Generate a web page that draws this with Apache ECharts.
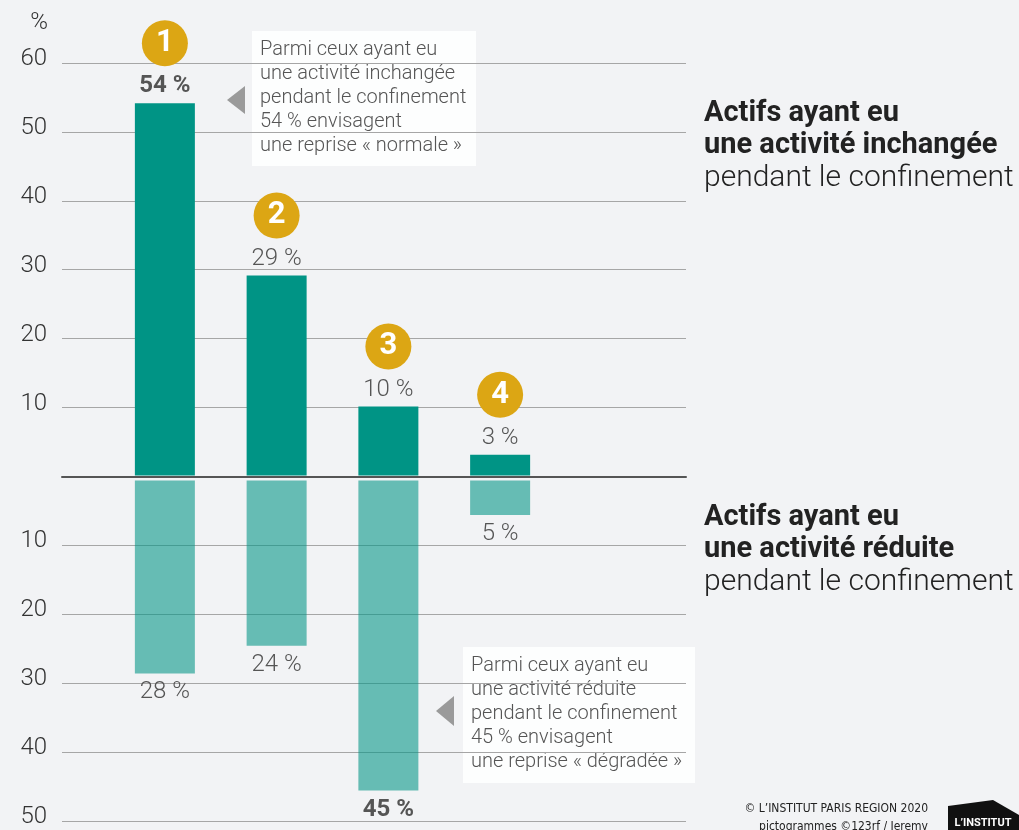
<!DOCTYPE html>
<html>
<head>
<meta charset="utf-8">
<script src="https://cdn.jsdelivr.net/npm/echarts@6/dist/echarts.min.js"></script>
<style>
  html, body { margin: 0; padding: 0; background: #f2f3f5; }
  #chart { width: 1019px; height: 830px; }
</style>
</head>
<body>
<div id="chart"></div>
<script>
// numéros des groupes
var categories = ['1', '2', '3', '4'];
// actifs ayant eu une activité inchangée (%)
var inchangee = [54, 29, 10, 3];
// actifs ayant eu une activité réduite (%)
var reduite = [28, 24, 45, 5];

var FONT = 'Roboto, "Open Sans", sans-serif';
var TEAL = '#009485';
var TEAL_LIGHT = 'rgba(0,148,133,0.58)';
var GOLD = '#dca614';

var chart = echarts.init(document.getElementById('chart'));

var note1 = ['Parmi ceux ayant eu', 'une activité inchangée', 'pendant le confinement',
             '54 % envisagent', 'une reprise « normale »'];
var note2 = ['Parmi ceux ayant eu', 'une activité réduite', 'pendant le confinement',
             '45 % envisagent', 'une reprise « dégradée »'];

function note(x, y, w, h, lines, tri) {
    return {
        type: 'group',
        children: [
            { type: 'rect', shape: { x: x, y: y, width: w, height: h },
              style: { fill: 'rgba(255,255,255,0.85)' } },
            { type: 'text', x: x + 8, y: y + 7,
              style: { text: lines.join('\n'), font: '300 20px ' + FONT, lineHeight: 24, fill: '#555' } },
            { type: 'polygon', shape: { points: tri }, style: { fill: '#9a9a9a' } }
        ]
    };
}

var option = {
    backgroundColor: '#f2f3f5',
    animation: false,
    grid: [
        { left: 62, right: 333, top: 63, bottom: 9 },
        { left: 109, right: 463, top: 62, bottom: 10 },
        { left: 109, right: 463, top: 67, bottom: 5 }
    ],
    xAxis: [
        { gridIndex: 0, type: 'category', data: [''],
          axisLine: { onZero: true, lineStyle: { color: '#555', width: 2 } },
          axisTick: { show: false }, axisLabel: { show: false } },
        { gridIndex: 1, type: 'category', data: categories, show: false },
        { gridIndex: 2, type: 'category', data: categories, show: false }
    ],
    yAxis: [
        { gridIndex: 0, type: 'value', min: -50, max: 60, interval: 10,
          name: '%', nameLocation: 'end', nameGap: 28,
          nameTextStyle: { align: 'right', padding: [0, 14, 0, 0], fontSize: 24, fontWeight: 300,
                           color: '#333', fontFamily: FONT },
          axisLine: { show: false }, axisTick: { show: false },
          axisLabel: { fontSize: 24, fontWeight: 300, color: '#333', fontFamily: FONT, margin: 15,
                       verticalAlign: 'bottom', lineHeight: 8,
                       formatter: function (v) { return v === 0 ? '' : Math.abs(v); } },
          splitLine: { lineStyle: { color: '#a6a6a6', width: 1 } } },
        { gridIndex: 1, type: 'value', min: -50, max: 60, show: false, splitLine: { show: false } },
        { gridIndex: 2, type: 'value', min: -50, max: 60, show: false, splitLine: { show: false } }
    ],
    series: [
        {
            type: 'bar', xAxisIndex: 1, yAxisIndex: 1, barWidth: 60,
            data: inchangee.map(function (v, i) {
                return i === 0 ? { value: v, label: { fontWeight: 'bold' } } : v;
            }),
            itemStyle: { color: TEAL },
            label: { show: true, position: 'top', distance: 5, fontSize: 24, fontWeight: 300,
                     color: '#555', fontFamily: FONT,
                     formatter: function (p) { return Math.abs(p.value) + ' %'; } },
            markPoint: {
                symbol: 'circle', symbolSize: 46, symbolOffset: [0, -60],
                itemStyle: { color: GOLD },
                label: { show: true, color: '#fff', fontSize: 31, fontWeight: 'bold', fontFamily: FONT,
                         formatter: function (p) { return p.name; } },
                data: inchangee.map(function (v, i) {
                    return { name: categories[i], coord: [categories[i], v] };
                })
            }
        },
        {
            type: 'bar', xAxisIndex: 2, yAxisIndex: 2, barWidth: 60,
            data: reduite.map(function (v, i) {
                return i === 2 ? { value: -v, label: { fontWeight: 'bold' } } : -v;
            }),
            itemStyle: { color: TEAL_LIGHT },
            label: { show: true, position: 'bottom', distance: 7, fontSize: 24, fontWeight: 300,
                     color: '#555', fontFamily: FONT,
                     formatter: function (p) { return Math.abs(p.value) + ' %'; } }
        }
    ],
    graphic: [
        note(252, 31, 224, 135, note1, [[245, 86], [245, 114], [227, 100]]),
        note(463, 647, 232, 136, note2, [[454, 696], [454, 726], [436, 711]]),
        { type: 'text', x: 704, y: 98,
          style: { text: 'Actifs ayant eu\nune activité inchangée', font: 'bold 29px ' + FONT,
                   lineHeight: 32, fill: '#222' } },
        { type: 'text', x: 704, y: 162,
          style: { text: 'pendant le confinement', font: '300 30px ' + FONT, lineHeight: 32, fill: '#222' } },
        { type: 'text', x: 704, y: 502,
          style: { text: 'Actifs ayant eu\nune activité réduite', font: 'bold 29px ' + FONT,
                   lineHeight: 32, fill: '#222' } },
        { type: 'text', x: 704, y: 566,
          style: { text: 'pendant le confinement', font: '300 30px ' + FONT, lineHeight: 32, fill: '#222' } },
        { type: 'text', x: 928, y: 800,
          style: { text: '© L\u2019INSTITUT PARIS REGION 2020\npictogrammes ©123rf / Jeremy',
                   font: '12px "Liberation Sans Narrow", "DejaVu Sans Condensed", sans-serif',
                   lineHeight: 18, fill: '#222', align: 'right' } },
        { type: 'polygon', shape: { points: [[948, 806], [993, 800], [1019, 815], [1019, 830], [948, 830]] },
          style: { fill: '#111' } },
        { type: 'text', x: 983, y: 823,
          style: { text: 'L\u2019INSTITUT', font: 'bold 11px ' + FONT, fill: '#fff',
                   align: 'center', verticalAlign: 'middle' } }
    ]
};

chart.setOption(option);
</script>
</body>
</html>
